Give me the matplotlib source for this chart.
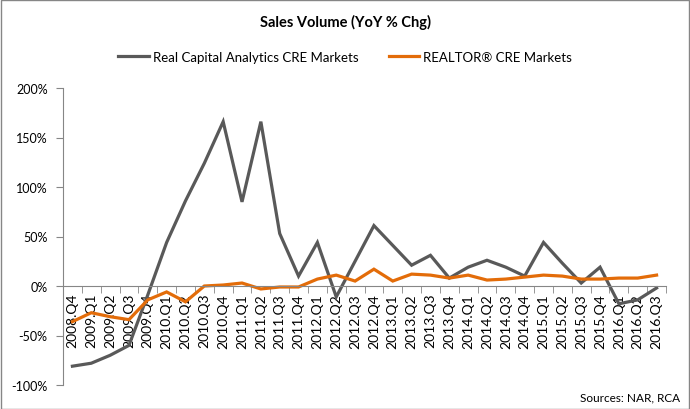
import matplotlib
matplotlib.use("Agg")
import matplotlib.pyplot as plt
import numpy as np
from matplotlib.patches import Rectangle
from matplotlib.ticker import FuncFormatter

quarters = [
    "2008.Q4",
    "2009.Q1", "2009.Q2", "2009.Q3", "2009.Q4",
    "2010.Q1", "2010.Q2", "2010.Q3", "2010.Q4",
    "2011.Q1", "2011.Q2", "2011.Q3", "2011.Q4",
    "2012.Q1", "2012.Q2", "2012.Q3", "2012.Q4",
    "2013.Q1", "2013.Q2", "2013.Q3", "2013.Q4",
    "2014.Q1", "2014.Q2", "2014.Q3", "2014.Q4",
    "2015.Q1", "2015.Q2", "2015.Q3", "2015.Q4",
    "2016.Q1", "2016.Q2", "2016.Q3",
]

# YoY % change
rca = [
    -81, -78, -70, -60, -9,
    44, 86, 124, 166,
    85, 166, 53, 10,
    44, -11, 25, 61,
    41, 21, 31, 8,
    19, 26, 19, 10,
    44, 23, 3, 19,
    -18, -14, -2,
]
realtor = [
    -36, -27, -31, -34, -14,
    -6, -16, 0, 1,
    3, -3, -1, -1,
    7, 11, 5, 17,
    5, 12, 11, 8,
    11, 6, 7, 9,
    11, 10, 7, 7,
    8, 8, 11,
]

GRAY = "#595959"
ORANGE = "#E36C09"
AXIS = "#868686"

plt.rcParams["font.family"] = ["Lato", "DejaVu Sans"]

fig = plt.figure(figsize=(6.9, 4.1), dpi=100)
ax = fig.add_axes([63 / 690, 1 - 386 / 410, (666 - 63) / 690, (386 - 89) / 410])

pos = np.arange(len(quarters)) + 0.5
ax.plot(pos, rca, color=GRAY, lw=2.3, label="Real Capital Analytics CRE Markets", solid_joinstyle="miter")
ax.plot(pos, realtor, color=ORANGE, lw=2.3, label="REALTOR\u00ae CRE Markets", solid_joinstyle="miter")

ax.set_xlim(0, len(quarters))
ax.set_ylim(-100, 200)
ax.set_yticks(range(-100, 201, 50))
ax.yaxis.set_major_formatter(FuncFormatter(lambda v, _: f"{v:.0f}%"))

ax.set_xticks(pos)
ax.set_xticklabels(quarters, fontsize=9.5, color="#000000")
ax.set_xticks(np.arange(len(quarters) + 1), minor=True)
ax.tick_params(axis="x", which="major", length=0, pad=5, labelrotation=90)
ax.tick_params(axis="x", which="minor", length=5, color=AXIS, direction="out")
ax.tick_params(axis="y", length=5, color=AXIS, labelsize=9, pad=6)

for side in ("top", "right"):
    ax.spines[side].set_visible(False)
ax.spines["bottom"].set_position(("data", 0))
ax.spines["bottom"].set_color(AXIS)
ax.spines["left"].set_color(AXIS)

fig.text(0.5, 1 - 22 / 410, "Sales Volume (YoY % Chg)", ha="center", va="center",
         fontsize=10.5, fontweight="bold")
fig.legend(loc="center", bbox_to_anchor=(0.5, 1 - 58 / 410), ncol=2, frameon=False,
           fontsize=9.5, handlelength=2.3, handletextpad=0.3, columnspacing=2.3)
fig.text(680 / 690, 1 - 398 / 410, "Sources: NAR, RCA", ha="right", va="center", fontsize=8.5)

fig.patches.append(Rectangle((0.5 / 690, 0.5 / 410), 1 - 1.5 / 690, 1 - 1.5 / 410,
                             transform=fig.transFigure, fill=False, edgecolor=AXIS, lw=1))

fig.savefig("out.png", dpi=100)
